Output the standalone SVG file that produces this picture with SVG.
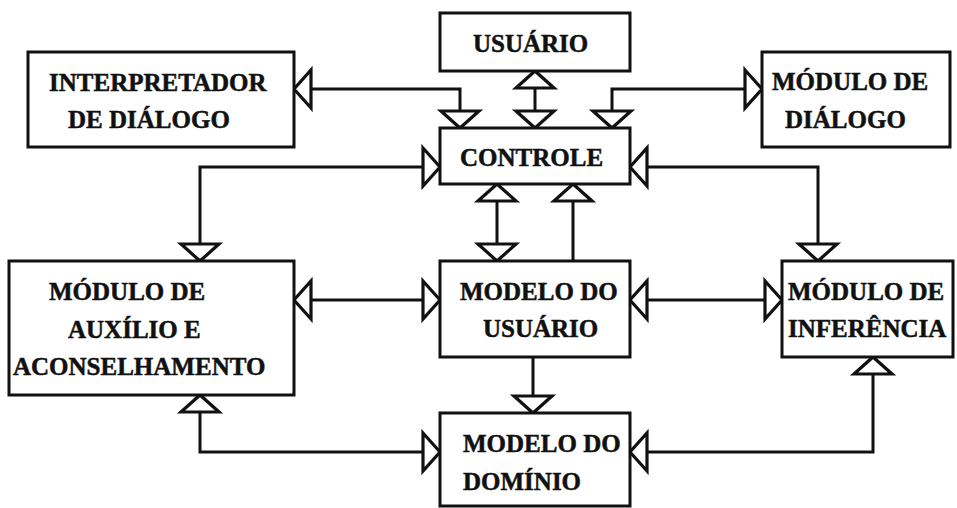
<svg xmlns="http://www.w3.org/2000/svg" width="957" height="508" viewBox="0 0 957 508">
  <style>
    .box { fill: #fff; stroke: #111; stroke-width: 3; }
    .lbl { font-family: "Liberation Serif", "Times New Roman", serif; font-weight: bold; font-size: 25px; fill: #111; stroke: #111; stroke-width: 0.5; }
    .wire { fill: none; stroke: #111; stroke-width: 3; stroke-linejoin: miter; }
    .both { marker-start: url(#tri); marker-end: url(#tri); }
    .one { marker-end: url(#tri); }
  </style>
  <defs>
    <!-- open triangular arrowhead, tip on the path end -->
    <marker id="tri" markerUnits="userSpaceOnUse" viewBox="0 0 24 48" refX="19" refY="24" markerWidth="24" markerHeight="48" orient="auto-start-reverse">
      <polygon points="2,5 19,24 2,43" fill="#fff" stroke="#111" stroke-width="3.2"/>
    </marker>
  </defs>
  <rect width="957" height="508" fill="#fff"/>

  <g id="connectors">
    <path class="wire both" d="M294,89 H460 V128"/>
    <path class="wire both" d="M535,71 V128"/>
    <path class="wire both" d="M612,128 V89 H762"/>
    <path class="wire both" d="M440,167 H200 V261"/>
    <path class="wire both" d="M630,167 H818 V261"/>
    <path class="wire both" d="M497,184 V261"/>
    <path class="wire one" d="M573,261 V184"/>
    <path class="wire both" d="M294,300 H440"/>
    <path class="wire both" d="M630,300 H782"/>
    <path class="wire one" d="M533,357 V413"/>
    <path class="wire both" d="M200,395 V452 H440"/>
    <path class="wire both" d="M873,357 V452 H630"/>
  </g>

  <g id="usuario">
    <rect class="box" x="440" y="13" width="190" height="58"/>
    <text class="lbl" x="473" y="52">USUÁRIO</text>
  </g>
  <g id="interpretador">
    <rect class="box" x="28" y="52" width="266" height="95"/>
    <text class="lbl" x="49" y="91">INTERPRETADOR</text>
    <text class="lbl" x="68" y="128">DE DIÁLOGO</text>
  </g>
  <g id="modulo-dialogo">
    <rect class="box" x="762" y="52" width="188" height="95"/>
    <text class="lbl" x="772" y="90">MÓDULO DE</text>
    <text class="lbl" x="785" y="128">DIÁLOGO</text>
  </g>
  <g id="controle">
    <rect class="box" x="440" y="128" width="190" height="56"/>
    <text class="lbl" x="460" y="166">CONTROLE</text>
  </g>
  <g id="modulo-auxilio">
    <rect class="box" x="9" y="261" width="285" height="134"/>
    <text class="lbl" x="49" y="300">MÓDULO DE</text>
    <text class="lbl" x="68" y="338">AUXÍLIO E</text>
    <text class="lbl" x="13" y="375">ACONSELHAMENTO</text>
  </g>
  <g id="modelo-usuario">
    <rect class="box" x="440" y="261" width="190" height="96"/>
    <text class="lbl" x="460" y="300">MODELO DO</text>
    <text class="lbl" x="483" y="337">USUÁRIO</text>
  </g>
  <g id="modulo-inferencia">
    <rect class="box" x="782" y="261" width="171" height="96"/>
    <text class="lbl" x="788" y="300">MÓDULO DE</text>
    <text class="lbl" x="788" y="337">INFERÊNCIA</text>
  </g>
  <g id="modelo-dominio">
    <rect class="box" x="440" y="413" width="190" height="93"/>
    <text class="lbl" x="463" y="452">MODELO DO</text>
    <text class="lbl" x="463" y="490">DOMÍNIO</text>
  </g>
</svg>
